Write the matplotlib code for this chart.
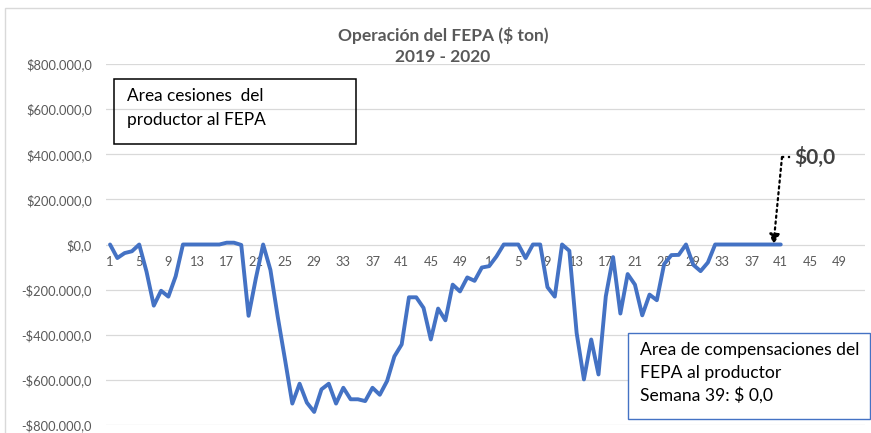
import numpy as np
import matplotlib
matplotlib.use("Agg")
import matplotlib.pyplot as plt
from matplotlib.patches import Rectangle
from matplotlib.lines import Line2D

plt.rcParams['font.family'] = ['Lato', 'DejaVu Sans']

# weekly FEPA operation ($ thousand per ton)
fepa_2019 = [0, -60, -38, -30, 0, -120, -271, -205, -231, -141,
             0, 0, 0, 0, 0, 0, 8, 8, -2, -316,
             -150, 0, -113, -320, -510, -705, -617, -701, -742, -642,
             -617, -705, -635, -686, -686, -694, -635, -666, -605, -496,
             -443, -234, -234, -281, -421, -284, -336, -178, -208, -146,
             -161, -102]
fepa_2020 = [-96, -53, 0, 0, 0, -60, 0, 0, -189, -231,
             0, -28, -392, -598, -421, -576, -230, -56, -306, -131,
             -178, -314, -222, -247, -87, -47, -46, 0, -90, -118,
             -80, 0, 0, 0, 0, 0, 0, 0, 0, 0, 0]
weeks_per_year = 52
n_years = 2
y_ticks = [-800000, -600000, -400000, -200000, 0, 200000, 400000, 600000, 800000]

W, H = 871, 433
GRAY = '#595959'
BLUE = '#4472C4'


def px(x, y):
    # pixel position -> figure fraction
    return x / W, 1 - y / H


def money(v):
    s = f"{abs(v):,.1f}".replace(",", "X").replace(".", ",").replace("X", ".")
    return ("-" if v < 0 else "") + "\\$" + s


values = np.array(fepa_2019 + fepa_2020) * 1000
idx = np.arange(1, len(values) + 1)
n_cat = weeks_per_year * n_years

fig = plt.figure(figsize=(W / 100, H / 100), dpi=100)
fig.patches.append(Rectangle((5 / W, -0.1), 2, 1 - 8 / H + 0.1, transform=fig.transFigure,
                             fill=False, ec='#D9D9D9', lw=1))

x0, y0 = px(106.4, 425)
x1, y1 = px(864.6, 64)
ax = fig.add_axes([x0, y0, x1 - x0, y1 - y0])
ax.set_xlim(0.5, n_cat + 0.5)
ax.set_ylim(-800000, 800000)

ax.set_yticks(y_ticks)
ax.set_yticklabels([money(v) for v in y_ticks])
ax.yaxis.grid(True, color='#D9D9D9', lw=0.9)
ax.set_axisbelow(True)

cats = np.arange(1, n_cat + 1, 4)
ax.set_xticks(cats)
ax.set_xticklabels([str((c - 1) % weeks_per_year + 1) for c in cats])
for s in ax.spines.values():
    s.set_visible(False)
ax.spines['bottom'].set_position(('data', 0))
ax.tick_params(axis='x', length=0, pad=8, labelsize=9.3, labelcolor=GRAY)
ax.tick_params(axis='y', length=0, pad=10.5, labelsize=9.3, labelcolor=GRAY)

ax.plot(idx, values, color=BLUE, lw=2.8, solid_joinstyle='round', solid_capstyle='round', zorder=3)

# title
fig.text(*px(443, 35), "Operación del FEPA (\\$ ton)", ha='center', va='center',
         fontsize=12.5, fontweight='bold', color=GRAY)
fig.text(*px(443, 57), "2019 - 2020", ha='center', va='center',
         fontsize=12.5, fontweight='bold', color=GRAY)

# left box
bx, by = px(114, 144)
fig.patches.append(Rectangle((bx, by), 242 / W, 65 / H, transform=fig.transFigure,
                             fill=False, ec='black', lw=1.1, zorder=5))
fig.text(*px(127, 101), "Area cesiones  del", va='baseline', fontsize=12.4, color='black')
fig.text(*px(127, 125), "productor al FEPA", va='baseline', fontsize=12.4, color='black')

# right box
bx, by = px(628, 419)
fig.patches.append(Rectangle((bx, by), 242 / W, 86 / H, transform=fig.transFigure,
                             fc='white', ec=BLUE, lw=1, zorder=5))
fig.text(*px(640, 355), "Area de compensaciones del", va='baseline', fontsize=12.6, color='black', zorder=6)
fig.text(*px(640, 378), "FEPA al productor", va='baseline', fontsize=12.6, color='black', zorder=6)
fig.text(*px(640, 401), "Semana 39: \\$ 0,0", va='baseline', fontsize=12.6, color='black', zorder=6)

# $0,0 callout
fig.text(*px(794, 157), "\\$0,0", va='center', fontsize=15, fontweight='bold', color='#404040')
fig.add_artist(Line2D([782 / W, 791 / W], [1 - 157 / H] * 2, transform=fig.transFigure,
                      color='black', lw=1.6, ls=':'))
ax.annotate('', xy=(92, 0), xycoords='data', xytext=px(782, 157), textcoords='figure fraction',
            arrowprops=dict(arrowstyle='-|>', color='black', lw=1.6, ls=':', mutation_scale=15,
                            shrinkA=0, shrinkB=0), zorder=6)

fig.savefig('out.png', dpi=100)
